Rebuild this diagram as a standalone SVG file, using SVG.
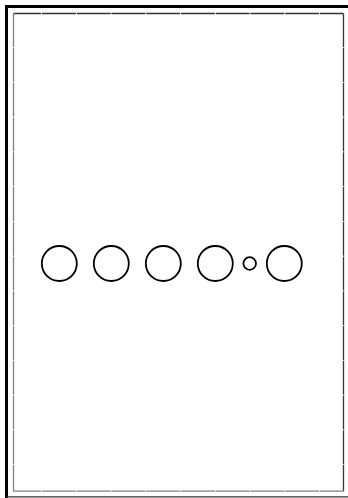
<svg xmlns="http://www.w3.org/2000/svg" width="348" height="498" viewBox="0 0 348 498">
<style>
.c{fill:none;stroke:#000;stroke-width:1.8}
.fr{fill:none;stroke-width:1.3}
</style>
<rect width="348" height="498" fill="#fff"/>
<g id="outer-frame">
<path d="M6.5 498V6.5H348" fill="none" stroke="#000" stroke-width="3"/>
<path d="M6 496.8H348" fill="none" stroke="#333" stroke-width="1.2"/>
</g>
<g id="inner-frame">
<path d="M13.5 13.5H343.5" class="fr" stroke="#333" stroke-dasharray="34 0.75" stroke-dashoffset="6.3"/>
<path d="M343.5 13.5V491.2" class="fr" stroke="#333" stroke-dasharray="34 0.75" stroke-dashoffset="0.25"/>
<path d="M13.5 13.5V491.2" class="fr" stroke="#808080" stroke-dasharray="34 0.75" stroke-dashoffset="0.25"/>
<path d="M13.5 491.2H343.5" class="fr" stroke="#808080" stroke-dasharray="34 0.75" stroke-dashoffset="6.3"/>
</g>
<g id="circles">
<circle id="c1" class="c" cx="59.3" cy="263.5" r="17.5"/>
<circle id="c2" class="c" cx="111.3" cy="263.5" r="17.5"/>
<circle id="c3" class="c" cx="163.3" cy="263.5" r="17.5"/>
<circle id="c4" class="c" cx="215.3" cy="263.5" r="17.5"/>
<circle id="c5" class="c" cx="249.7" cy="263.5" r="6.3"/>
<circle id="c6" class="c" cx="284.3" cy="263.5" r="17.5"/>
</g>
</svg>
